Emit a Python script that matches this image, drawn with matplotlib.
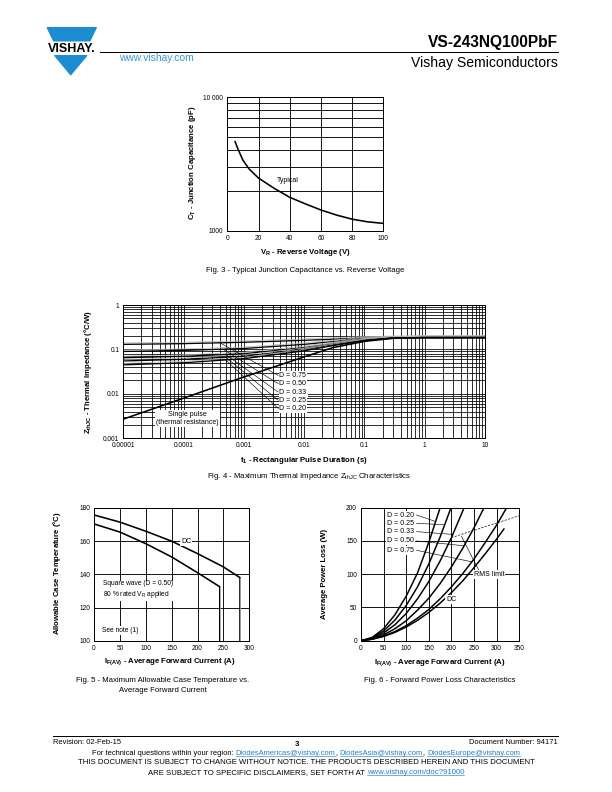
import numpy as np
import matplotlib
matplotlib.use("Agg")
import matplotlib.pyplot as plt
from matplotlib.ticker import FixedLocator, NullFormatter
from matplotlib.patches import Polygon
from matplotlib.lines import Line2D

plt.rcParams['font.family'] = ['Liberation Sans', 'DejaVu Sans']
plt.rcParams['mathtext.fontset'] = 'custom'
plt.rcParams['mathtext.rm'] = 'Liberation Sans'
plt.rcParams['mathtext.bf'] = 'Liberation Sans:bold'
plt.rcParams['mathtext.default'] = 'regular'

# ---- data ----
# Fig. 3  junction capacitance
vr = [5, 7, 10, 14, 20, 30, 40, 50, 60, 70, 80, 90, 100]
ct = [4650, 4050, 3380, 2900, 2480, 2080, 1780, 1590, 1430, 1310, 1220, 1165, 1135]

# Fig. 4  thermal impedance
t1 = [1e-5, 1e-4, 1e-3, 1e-2, 3e-2, 0.1, 0.3, 1, 10]
z_d75 = [0.13, 0.135, 0.145, 0.16, 0.17, 0.18, 0.185, 0.185, 0.185]
z_d50 = [0.09, 0.095, 0.105, 0.13, 0.15, 0.172, 0.183, 0.185, 0.185]
z_d33 = [0.065, 0.07, 0.08, 0.11, 0.135, 0.165, 0.182, 0.185, 0.185]
z_d25 = [0.055, 0.06, 0.07, 0.1, 0.128, 0.16, 0.181, 0.185, 0.185]
z_d20 = [0.045, 0.05, 0.062, 0.093, 0.122, 0.157, 0.18, 0.185, 0.185]
z_single = [0.0027, 0.008, 0.024, 0.068, 0.11, 0.152, 0.178, 0.185, 0.185]
d_names = ['D = 0.75', 'D = 0.50', 'D = 0.33', 'D = 0.25', 'D = 0.20']
d_label_z = [0.026, 0.017, 0.011, 0.0072, 0.0047]
d_leader_t = [4e-4, 4.5e-4, 5e-4, 5e-4, 5e-4]

# Fig. 5  allowable case temperature
if_dc = [0, 50, 100, 150, 200, 250, 282, 282]
tc_dc = [175.8, 171.5, 166, 160, 152.5, 144.5, 138, 100]
if_sq = [0, 50, 100, 150, 200, 243, 243]
tc_sq = [170.4, 165.5, 158.5, 150.5, 141, 132.5, 100]

# Fig. 6  forward power loss
i20 = [0, 25, 50, 75, 100, 125, 150, 175]
p20 = [0, 5, 18, 39, 67, 102, 148, 200]
i25 = [0, 25, 50, 75, 100, 125, 150, 175, 199]
p25 = [0, 4.3, 14.5, 31, 53, 81, 115.5, 156, 200]
i33 = [0, 25, 50, 75, 100, 125, 150, 175, 200, 228]
p33 = [0, 3.5, 11.6, 24, 41, 63, 89, 120, 155, 200]
i50 = [0, 25, 50, 75, 100, 125, 150, 175, 200, 225, 250, 272]
p50 = [0, 2.8, 8.8, 18, 30, 46, 64, 86, 111, 139, 170, 200]
i75 = [0, 25, 50, 75, 100, 125, 150, 175, 200, 225, 250, 275, 300, 322]
p75 = [0, 2.4, 6.9, 13.7, 22.7, 34, 47, 63, 81, 101, 123, 148, 174, 200]
idc = [0, 25, 50, 75, 100, 125, 150, 175, 200, 225, 250, 275, 300, 316]
pdc = [0, 2.2, 6.4, 12.5, 20.6, 30.6, 42.6, 56.5, 72.4, 90, 110, 131, 153, 168]
rms_i = [200, 250, 300, 350]
rms_p = [155, 166, 177, 188]
loss_names = ['D = 0.20', 'D = 0.25', 'D = 0.33', 'D = 0.50', 'D = 0.75']
loss_label_p = [189, 176.5, 164, 150, 136]
loss_leader_i = [165, 185, 203, 228, 245]

W, H = 612, 792
fig = plt.figure(figsize=(W / 72, H / 72), dpi=72)

TICK = 6.5     # tick labels
ALAB = 7.8     # axis titles
CAP = 7.8      # figure captions
NOTE = 7.0     # in-plot notes


def put(x, y, s, **kw):
    return fig.text(x / W, 1 - y / H, s, **kw)


def axes_px(l, t, r, b):
    ax = fig.add_axes([l / W, 1 - b / H, (r - l) / W, (b - t) / H])
    for sp in ax.spines.values():
        sp.set_linewidth(1.0)
    ax.tick_params(which='both', length=0, labelsize=TICK, pad=4)
    return ax


box = dict(facecolor='white', edgecolor='none', pad=1.0)

# ---------------- header ----------------
blue = '#1c8dd3'
fig.add_artist(Polygon([(47 / W, 1 - 27.5 / H), (96.5 / W, 1 - 27.5 / H), (90 / W, 1 - 41 / H),
                        (53.5 / W, 1 - 41 / H)], closed=True, color=blue, transform=fig.transFigure))
fig.add_artist(Polygon([(54.5 / W, 1 - 55.5 / H), (87 / W, 1 - 55.5 / H), (70.7 / W, 1 - 75 / H)],
                       closed=True, color=blue, transform=fig.transFigure))
put(71.5, 48.5, 'VISHAY.', fontsize=12.5, fontweight='bold', ha='center', va='center')
put(119, 58, 'www.vishay.com', fontsize=10.3, color='#3a9ad9', va='center')
fig.add_artist(Line2D([100 / W, 558 / W], [1 - 52.3 / H] * 2, color='black', lw=1.0))
put(558, 42, 'VS-243NQ100PbF', fontsize=15.5, fontweight='bold', ha='right', va='center')
put(558, 62.5, 'Vishay Semiconductors', fontsize=14, ha='right', va='center')

# ---------------- Fig. 3 ----------------
ax3 = axes_px(227.3, 97.3, 383.3, 230.7)
ax3.set_yscale('log')
ax3.set_xlim(0, 100)
ax3.set_ylim(1000, 10000)
ax3.xaxis.set_major_locator(FixedLocator([0, 20, 40, 60, 80, 100]))
ax3.set_xticklabels(['0', '20', '40', '60', '80', '100'])
ax3.yaxis.set_major_locator(FixedLocator([1000, 10000]))
ax3.set_yticklabels(['1000', '10 000'])
ax3.yaxis.set_minor_locator(FixedLocator(list(range(2000, 10000, 1000))))
ax3.yaxis.set_minor_formatter(NullFormatter())
ax3.grid(True, which='both', color='black', lw=0.9)
ax3.plot(vr, ct, color='black', lw=1.6)
ax3.text(31.5, 2370, 'Typical', fontsize=NOTE, va='center')
put(305, 253, r'V$_{\mathbf{R}}$ - Reverse Voltage (V)', fontsize=ALAB, fontweight='bold',
    ha='center', va='center')
put(192, 163, r'C$_{\mathbf{T}}$ - Junction Capacitance (pF)', fontsize=ALAB, fontweight='bold',
    ha='center', va='center', rotation=90)
put(305, 271, 'Fig. 3 - Typical Junction Capacitance vs. Reverse Voltage', fontsize=CAP,
    ha='center', va='center')

# ---------------- Fig. 4 ----------------
ax4 = axes_px(123.3, 305, 485, 438.3)
ax4.set_xscale('log')
ax4.set_yscale('log')
ax4.set_xlim(1e-5, 10)
ax4.set_ylim(0.001, 1)
xt4 = [1e-5, 1e-4, 1e-3, 1e-2, 0.1, 1, 10]
ax4.xaxis.set_major_locator(FixedLocator(xt4))
ax4.set_xticklabels(['0.00001', '0.0001', '0.001', '0.01', '0.1', '1', '10'])
ax4.yaxis.set_major_locator(FixedLocator([0.001, 0.01, 0.1, 1]))
ax4.set_yticklabels(['0.001', '0.01', '0.1', '1'])
ax4.xaxis.set_minor_locator(FixedLocator([m * d for d in xt4[:-1] for m in range(2, 10)]))
ax4.yaxis.set_minor_locator(FixedLocator([m * d for d in [0.001, 0.01, 0.1] for m in range(2, 10)]))
ax4.xaxis.set_minor_formatter(NullFormatter())
ax4.yaxis.set_minor_formatter(NullFormatter())
ax4.grid(True, which='both', color='black', lw=0.8)
d_curves = [z_d75, z_d50, z_d33, z_d25, z_d20]
for zc in d_curves:
    ax4.plot(t1, [v * 1.08 for v in zc], color='#b4b4b4', lw=0.7)
    ax4.plot(t1, zc, color='black', lw=1.3)
ax4.plot(t1, z_single, color='black', lw=1.6)
for zc, nm, zl, tl in zip(d_curves, d_names, d_label_z, d_leader_t):
    zs = 10 ** np.interp(np.log10(tl), np.log10(t1), np.log10(zc))
    ax4.plot([tl, 3.7e-3], [zs, zl], color='black', lw=0.6)
    ax4.text(3.9e-3, zl, nm, fontsize=NOTE, va='center', ha='left', bbox=box)
ax4.text(1.15e-4, 0.0028, 'Single pulse\n(thermal resistance)', fontsize=NOTE, ha='center',
         va='center', linespacing=1.1, bbox=box)
put(304, 460, r't$_{\mathbf{1}}$ - Rectangular Pulse Duration (s)', fontsize=ALAB, fontweight='bold',
    ha='center', va='center')
put(88, 372, r'Z$_{\mathbf{thJC}}$ - Thermal Impedance ($\degree$C/W)', fontsize=ALAB,
    fontweight='bold', ha='center', va='center', rotation=90)
put(309, 476, r'Fig. 4 - Maximum Thermal Impedance Z$_{thJC}$ Characteristics', fontsize=CAP,
    ha='center', va='center')

# ---------------- Fig. 5 ----------------
ax5 = axes_px(94, 508, 249.3, 640.7)
ax5.set_xlim(0, 300)
ax5.set_ylim(100, 180)
ax5.set_xticks(range(0, 301, 50))
ax5.set_yticks(range(100, 181, 20))
ax5.grid(True, color='black', lw=0.9)
ax5.plot(if_dc, tc_dc, color='black', lw=1.6)
ax5.plot(if_sq, tc_sq, color='black', lw=1.6)
ax5.plot(if_dc[-2:], tc_dc[-2:], color='white', lw=0.5)
ax5.plot(if_sq[-2:], tc_sq[-2:], color='white', lw=0.5)
ax5.text(178, 159.8, 'DC', fontsize=NOTE, ha='center', va='center', bbox=box)
ax5.text(17, 130.5, 'Square wave (D = 0.50)\n80 % rated V$_R$ applied', fontsize=6.6,
         ha='left', va='center', linespacing=1.3, bbox=box)
ax5.text(15, 106, 'See note (1)', fontsize=6.6, ha='left', va='center', bbox=box)
put(170, 662, r'I$_{\mathbf{F(AV)}}$ - Average Forward Current (A)', fontsize=ALAB,
    fontweight='bold', ha='center', va='center')
put(57, 573, r'Allowable Case Temperature ($\degree$C)', fontsize=ALAB, fontweight='bold',
    ha='center', va='center', rotation=90)
put(163, 681, 'Fig. 5 - Maximum Allowable Case Temperature vs.', fontsize=CAP,
    ha='center', va='center')
put(163, 690.5, 'Average Forward Current', fontsize=CAP, ha='center', va='center')

# ---------------- Fig. 6 ----------------
ax6 = axes_px(361, 507.7, 519.3, 640.7)
ax6.set_xlim(0, 350)
ax6.set_ylim(0, 200)
ax6.set_xticks(range(0, 351, 50))
ax6.set_yticks(range(0, 201, 50))
ax6.grid(True, color='black', lw=0.9)
loss_curves = [(i20, p20), (i25, p25), (i33, p33), (i50, p50), (i75, p75)]
for ic, pc in loss_curves + [(idc, pdc)]:
    ax6.plot(ic, pc, color='black', lw=1.5)
ax6.plot(rms_i, rms_p, color='black', lw=0.7, ls=(0, (3, 2)))
for (ic, pc), nm, pl, il in zip(loss_curves, loss_names, loss_label_p, loss_leader_i):
    ax6.text(57, pl, nm, fontsize=NOTE, va='center', ha='left', bbox=box)
    ax6.plot([123, il], [pl, np.interp(il, ic, pc)], color='black', lw=0.6)
ax6.plot([262, 222], [104, 157], color='black', lw=0.6)
ax6.text(283, 100, 'RMS limit', fontsize=NOTE, ha='center', va='center', bbox=box)
ax6.text(199, 62, 'DC', fontsize=NOTE, ha='center', va='center', bbox=box)
put(440, 663, r'I$_{\mathbf{F(AV)}}$ - Average Forward Current (A)', fontsize=ALAB,
    fontweight='bold', ha='center', va='center')
put(325, 574, 'Average Power Loss (W)', fontsize=ALAB, fontweight='bold',
    ha='center', va='center', rotation=90)
put(440, 681, 'Fig. 6 - Forward Power Loss Characteristics', fontsize=CAP,
    ha='center', va='center')

# ---------------- footer ----------------
fig.add_artist(Line2D([53 / W, 558 / W], [1 - 736 / H] * 2, color='black', lw=1.0))
put(53, 743, 'Revision: 02-Feb-15', fontsize=7.5, va='center')
put(297, 744, '3', fontsize=7.8, fontweight='bold', ha='center', va='center')
put(558, 743, 'Document Number: 94171', fontsize=7.5, ha='right', va='center')

link = '#1f7fcf'


def put_segments(y, segs, size, cx):
    r = fig.canvas.get_renderer()
    arts = [put(0, y, s, fontsize=size, color=c, va='baseline') for s, c in segs]
    widths = [a.get_window_extent(r).width for a in arts]
    x = cx - sum(widths) / 2
    for a, w, (s, c) in zip(arts, widths, segs):
        a.set_x(x / W)
        if c != 'black':
            fig.add_artist(Line2D([x / W, (x + w) / W], [1 - (y + 1.4) / H] * 2, color=c, lw=0.6))
        x += w


put_segments(755, [('For technical questions within your region: ', 'black'),
                   ('DiodesAmericas@vishay.com', link), (', ', 'black'),
                   ('DiodesAsia@vishay.com', link), (', ', 'black'),
                   ('DiodesEurope@vishay.com', link)], 7.5, 306)
put(306, 763, 'THIS DOCUMENT IS SUBJECT TO CHANGE WITHOUT NOTICE. THE PRODUCTS DESCRIBED HEREIN AND THIS DOCUMENT',
    fontsize=7.8, ha='center', va='center')
put_segments(774, [('ARE SUBJECT TO SPECIFIC DISCLAIMERS, SET FORTH AT ', 'black'),
                   ('www.vishay.com/doc?91000', link)], 7.8, 306)

fig.savefig('out.png', dpi=72)
